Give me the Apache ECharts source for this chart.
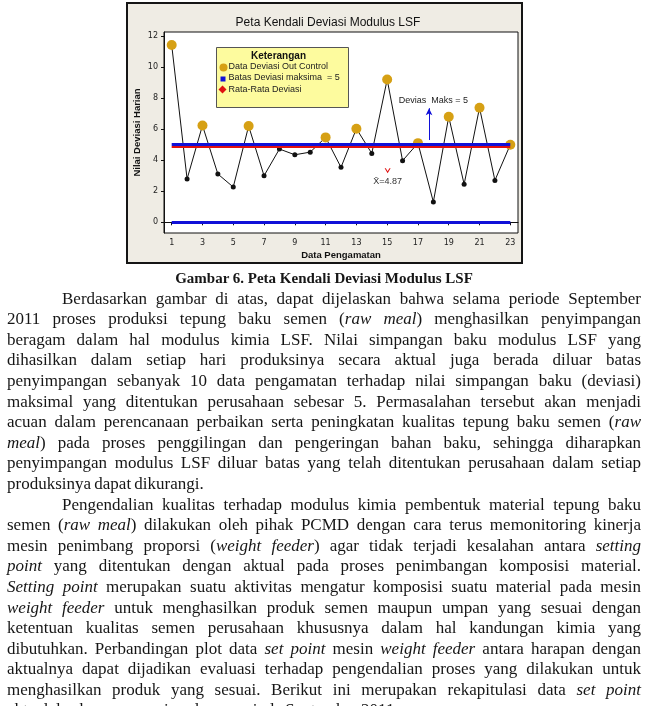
<!DOCTYPE html>
<html>
<head>
<meta charset="utf-8">
<script src="https://cdn.jsdelivr.net/npm/echarts@6/dist/echarts.min.js"></script>
<style>
  html, body { margin: 0; padding: 0; background: #fff; width: 647px; height: 706px; overflow: hidden; }
  #frame { position: absolute; left: 126px; top: 2px; width: 393px; height: 258px; border: 2px solid #151515; background: #efece4; }
  #chart { position: absolute; left: 0; top: 0; width: 647px; height: 270px; }
  #text { position: absolute; left: 7px; top: 268px; width: 634px; font-family: "Liberation Serif", "Times New Roman", serif; font-size: 17px; color: #161616; }
  #text div { height: 20.6px; line-height: 20.6px; white-space: nowrap; word-spacing: -1px; }
  #text .j { text-align: justify; text-align-last: justify; white-space: normal; }
  #text .ind { padding-left: 55px; }
  #text .cap { text-align: center; font-weight: bold; font-size: 15px; word-spacing: 0; }
</style>
</head>
<body>
<div id="frame"></div>
<div id="chart"></div>
<div id="text"></div>
<script>
// ---- data ----
const categories = ['1','2','3','4','5','6','7','8','9','10','11','12','13','14','15','16','17','18','19','20','21','22','23'];
const deviasi = [11.42, 2.79, 6.24, 3.11, 2.27, 6.20, 3.00, 4.72, 4.35, 4.52, 5.47, 3.54, 6.03, 4.44, 9.20, 3.97, 5.10, 1.31, 6.80, 2.45, 7.38, 2.70, 5.00];
const batasMaks = 5;
const batasBawah = 0;
const chartTitle = 'Peta Kendali Deviasi Modulus LSF';
const xName = 'Data Pengamatan';
const yName = 'Nilai Deviasi Harian';
const legendTitle = 'Keterangan';
const legendItems = ['Data Deviasi Out Control', 'Batas Deviasi maksima  = 5', 'Rata-Rata Deviasi'];
const annotMaks = 'Devias  Maks = 5';

const rataRata = deviasi.reduce((a, b) => a + b, 0) / deviasi.length;

const gold = '#d6a014';
const blue = '#1010d8';
const red = '#e01010';

const chart = echarts.init(document.getElementById('chart'), null, { renderer: 'canvas' });
const sans = 'Liberation Sans, Arial, sans-serif';

chart.setOption({
  backgroundColor: 'transparent',
  animation: false,
  title: {
    text: chartTitle, left: 323, top: 12, textAlign: 'center',
    textStyle: { fontFamily: sans, fontSize: 12, fontWeight: 'normal', color: '#111' }
  },
  grid: { left: 164, top: 32, width: 354, height: 201, show: true, backgroundColor: '#fff', borderColor: '#111', borderWidth: 1 },
  xAxis: [{
    type: 'category', data: categories, boundaryGap: true,
    name: xName, nameLocation: 'middle', nameGap: 17, nameMoveOverlap: false,
    nameTextStyle: { fontFamily: sans, fontSize: 9.5, fontWeight: 'bold', color: '#111' },
    axisLine: { lineStyle: { color: '#111', width: 1 } },
    axisTick: { show: true, interval: 1, alignWithLabel: true, length: 3, lineStyle: { color: '#111' } },
    axisLabel: { interval: 1, margin: 6, fontFamily: 'DejaVu Sans, sans-serif', fontSize: 8, color: '#222' },
    splitLine: { show: false }
  }, {
    type: 'value', min: 0.5, max: 23.5, show: false, gridIndex: 0
  }],
  yAxis: {
    type: 'value', min: -0.69, max: 12.26, splitNumber: 6,
    name: yName, nameLocation: 'middle', nameGap: 22, nameRotate: 90, nameMoveOverlap: false,
    nameTextStyle: { fontFamily: sans, fontSize: 9.5, fontWeight: 'bold', color: '#111' },
    axisLine: { show: true, lineStyle: { color: '#111' } },
    axisTick: { show: true, length: 3, lineStyle: { color: '#111' } },
    axisLabel: { margin: 6, showMinLabel: false, showMaxLabel: false, fontFamily: 'DejaVu Sans, sans-serif', fontSize: 8, color: '#222' },
    splitLine: { show: false }
  },
  series: [
    {
      name: 'batas', type: 'line', data: [], z: 1, silent: true,
      markLine: {
        silent: true, symbol: ['none', 'none'], label: { show: false },
        data: [
          [{ coord: [categories[0], batasMaks], lineStyle: { color: blue, width: 3, type: 'solid' } },
           { coord: [categories[categories.length - 1], batasMaks] }],
          [{ coord: [categories[0], rataRata - 0.02], lineStyle: { color: red, width: 2, type: 'solid' } },
           { coord: [categories[categories.length - 1], rataRata - 0.02] }],
          [{ coord: [categories[0], batasBawah], lineStyle: { color: blue, width: 3, type: 'solid' } },
           { coord: [categories[categories.length - 1], batasBawah] }]
        ]
      }
    },
    {
      name: 'Deviasi', type: 'line', data: deviasi, z: 3,
      lineStyle: { color: '#111', width: 1 },
      symbol: 'circle', showAllSymbol: true,
      symbolSize: v => (v >= batasMaks ? 10 : 5),
      itemStyle: { color: p => (p.value >= batasMaks ? gold : '#111') }
    },
    {
      name: 'anotasi', type: 'line', xAxisIndex: 1, data: [], z: 4, silent: true,
      markLine: {
        silent: true, symbol: ['none', 'arrow'], symbolSize: [5, 7], label: { show: false },
        lineStyle: { color: blue, width: 1, type: 'solid' },
        data: [[{ coord: [17.72, 5.3] }, { coord: [17.72, 7.35] }]]
      },
      markPoint: {
        silent: true,
        data: [
          { coord: [18.0, 7.87], symbol: 'rect', symbolSize: 1, itemStyle: { color: 'transparent' },
            label: { show: true, position: 'inside', formatter: annotMaks, fontFamily: sans, fontSize: 9, color: '#222' } },
          { coord: [15.03, 3.32], symbol: 'path://M0,0 L5,6 L10,0 L8,0 L5,3.5 L2,0 Z', symbolSize: [6, 5], itemStyle: { color: red },
            label: { show: true, position: 'bottom', distance: 4, formatter: 'X\u0304=' + rataRata.toFixed(2), fontFamily: sans, fontSize: 9, color: '#333' } }
        ]
      }
    }
  ],
  graphic: [{
    type: 'group', left: 216, top: 47,
    children: [
      { type: 'rect', shape: { x: 0, y: 0, width: 132, height: 60 }, style: { fill: '#fdfb9e', stroke: '#555', lineWidth: 1 } },
      { type: 'text', x: 62, y: 4, style: { text: legendTitle, font: 'bold 10px Liberation Sans', fill: '#111', textAlign: 'center' } },
      { type: 'circle', shape: { cx: 7, cy: 20, r: 4 }, style: { fill: gold } },
      { type: 'text', x: 12, y: 15, style: { text: legendItems[0], font: '9px Liberation Sans', fill: '#222' } },
      { type: 'rect', shape: { x: 4, y: 29, width: 5, height: 5 }, style: { fill: blue } },
      { type: 'text', x: 12, y: 26, style: { text: legendItems[1], font: '9px Liberation Sans', fill: '#222' } },
      { type: 'polygon', shape: { points: [[6, 38], [10, 42], [6, 46], [2, 42]] }, style: { fill: red } },
      { type: 'text', x: 12, y: 38, style: { text: legendItems[2], font: '9px Liberation Sans', fill: '#222' } }
    ]
  }]
});

// ---- text ----
const lines = [
  ['cap', 'Gambar 6. Peta Kendali Deviasi Modulus LSF'],
  ['j ind', 'Berdasarkan gambar di atas, dapat dijelaskan bahwa selama periode September'],
  ['j', '2011 proses produksi tepung baku semen (<i>raw meal</i>) menghasilkan penyimpangan'],
  ['j', 'beragam dalam hal modulus kimia LSF. Nilai simpangan baku modulus LSF yang'],
  ['j', 'dihasilkan dalam setiap hari produksinya secara aktual juga berada diluar batas'],
  ['j', 'penyimpangan sebanyak 10 data pengamatan terhadap nilai simpangan baku (deviasi)'],
  ['j', 'maksimal yang ditentukan perusahaan sebesar 5. Permasalahan tersebut akan menjadi'],
  ['j', 'acuan dalam perencanaan perbaikan serta peningkatan kualitas tepung baku semen (<i>raw</i>'],
  ['j', '<i>meal</i>) pada proses penggilingan dan pengeringan bahan baku, sehingga diharapkan'],
  ['j', 'penyimpangan modulus LSF diluar batas yang telah ditentukan perusahaan dalam setiap'],
  ['', 'produksinya dapat dikurangi.'],
  ['j ind', 'Pengendalian kualitas terhadap modulus kimia pembentuk material tepung baku'],
  ['j', 'semen (<i>raw meal</i>) dilakukan oleh pihak PCMD dengan cara terus memonitoring kinerja'],
  ['j', 'mesin penimbang proporsi (<i>weight feeder</i>) agar tidak terjadi kesalahan antara <i>setting</i>'],
  ['j', '<i>point</i> yang ditentukan dengan aktual pada proses penimbangan komposisi material.'],
  ['j', '<i>Setting point</i> merupakan suatu aktivitas mengatur komposisi suatu material pada mesin'],
  ['j', '<i>weight feeder</i> untuk menghasilkan produk semen maupun umpan yang sesuai dengan'],
  ['j', 'ketentuan kualitas semen perusahaan khususnya dalam hal kandungan kimia yang'],
  ['j', 'dibutuhkan. Perbandingan plot data <i>set point</i> mesin <i>weight feeder</i> antara harapan dengan'],
  ['j', 'aktualnya dapat dijadikan evaluasi terhadap pengendalian proses yang dilakukan untuk'],
  ['j', 'menghasilkan produk yang sesuai. Berikut ini merupakan rekapitulasi data <i>set point</i>'],
  ['', 'aktual dan harapan mesin selama periode September 2011.']
];
document.getElementById('text').innerHTML = lines.map(l => '<div class="' + l[0] + '">' + l[1] + '</div>').join('');
</script>
</body>
</html>
